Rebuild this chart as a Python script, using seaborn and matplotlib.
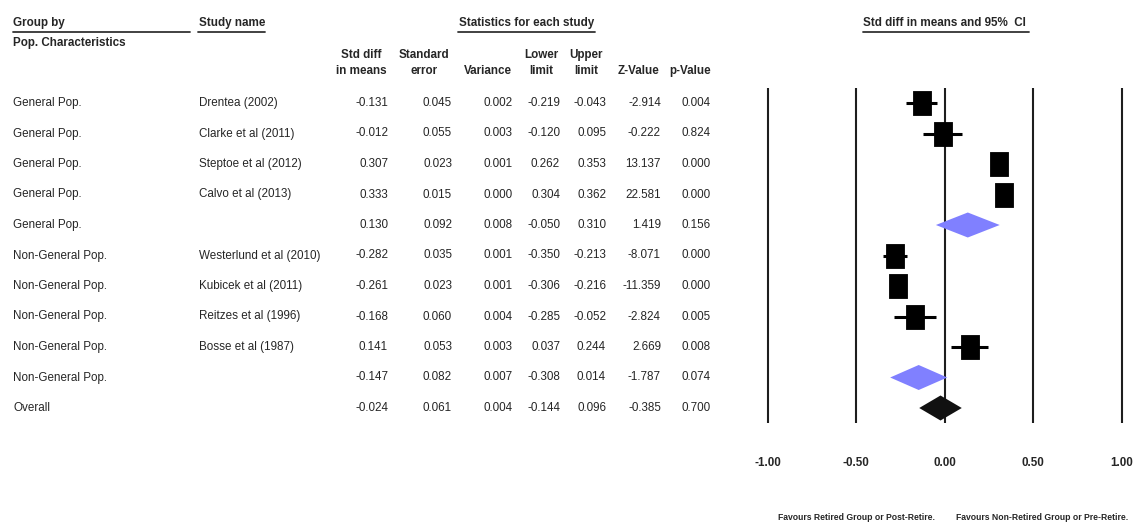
import numpy as np
import pandas as pd
import matplotlib
matplotlib.use("Agg")
import matplotlib.pyplot as plt
from matplotlib import font_manager
from matplotlib.markers import MarkerStyle
from matplotlib.patches import Polygon
from matplotlib.path import Path
import seaborn as sns

# ---- data -----------------------------------------------------------------
groups = ["General Pop."] * 5 + ["Non-General Pop."] * 5 + ["Overall"]
studies = ["Drentea (2002)", "Clarke et al (2011)", "Steptoe et al (2012)",
           "Calvo et al (2013)", "",
           "Westerlund et al (2010)", "Kubicek et al (2011)",
           "Reitzes et al (1996)", "Bosse et al (1987)", "", ""]
row_kind = ["study"] * 4 + ["subgroup"] + ["study"] * 4 + ["subgroup", "overall"]
std_diff = [-0.131, -0.012, 0.307, 0.333, 0.130, -0.282, -0.261, -0.168, 0.141, -0.147, -0.024]
std_err = [0.045, 0.055, 0.023, 0.015, 0.092, 0.035, 0.023, 0.060, 0.053, 0.082, 0.061]
variance = [0.002, 0.003, 0.001, 0.000, 0.008, 0.001, 0.001, 0.004, 0.003, 0.007, 0.004]
lower = [-0.219, -0.120, 0.262, 0.304, -0.050, -0.350, -0.306, -0.285, 0.037, -0.308, -0.144]
upper = [-0.043, 0.095, 0.353, 0.362, 0.310, -0.213, -0.216, -0.052, 0.244, 0.014, 0.096]
z_value = [-2.914, -0.222, 13.137, 22.581, 1.419, -8.071, -11.359, -2.824, 2.669, -1.787, -0.385]
p_value = [0.004, 0.824, 0.000, 0.000, 0.156, 0.000, 0.000, 0.005, 0.008, 0.074, 0.700]
x_ticks = [-1.0, -0.5, 0.0, 0.5, 1.0]

df = pd.DataFrame({
    "group": groups, "study": studies, "kind": row_kind,
    "es": std_diff, "se": std_err, "var": variance,
    "lo": lower, "hi": upper, "z": z_value, "p": p_value,
})
df["row"] = np.arange(len(df))

# ---- style ----------------------------------------------------------------
sns.set_theme(style="white")
available = {f.name for f in font_manager.fontManager.ttflist}
if "Liberation Sans Narrow" in available:
    FAMILY, SCALE = ["Liberation Sans Narrow", "DejaVu Sans"], 1.0
else:
    FAMILY, SCALE = ["Liberation Sans", "DejaVu Sans"], 0.84
plt.rcParams["font.family"] = FAMILY
FS = 10 * SCALE

W, H, DPI = 1136, 527, 100
fig = plt.figure(figsize=(W / DPI, H / DPI), dpi=DPI)

ROW0, STEP = 103.0, 30.5          # pixel centre of first row, row pitch
top_px = ROW0 - 0.5 * STEP
bot_px = ROW0 + (len(df) - 0.5) * STEP
ax_b = 1 - bot_px / H
ax_h = (bot_px - top_px) / H

# forest panel: -1 at x=767.5 px, +1 at x=1122 px
ppu = (1122 - 767.5) / 2
pad_u = 0.1
left_px = 767.5 - pad_u * ppu
ax = fig.add_axes([left_px / W, ax_b, (2 + 2 * pad_u) * ppu / W, ax_h])
ax.set_xlim(-1 - pad_u, 1 + pad_u)
ax.set_ylim(len(df) - 0.5, -0.5)
for s in ax.spines.values():
    s.set_visible(False)
ax.set_yticks([])
ax.set_xticks(x_ticks)
ax.set_xticklabels([f"{t:.2f}" for t in x_ticks], fontweight="bold", fontsize=FS)
ax.tick_params(axis="x", length=0, pad=24)
ax.patch.set_alpha(0)

for t in x_ticks:
    ax.axvline(t, color="#1e1e1e", lw=1.5, zorder=1)

studies_df = df[df["kind"] == "study"]
ax.hlines(studies_df["row"], studies_df["lo"], studies_df["hi"],
          color="black", lw=2.2, zorder=2)

rect = Path([(-0.39, -0.5), (0.39, -0.5), (0.39, 0.5), (-0.39, 0.5), (-0.39, -0.5)],
            [Path.MOVETO, Path.LINETO, Path.LINETO, Path.LINETO, Path.CLOSEPOLY])
sns.scatterplot(data=studies_df, x="es", y="row", marker=MarkerStyle(rect),
                s=280, color="black", edgecolor="black", linewidth=0.6,
                legend=False, ax=ax, zorder=3)
ax.set_xlabel("")
ax.set_ylabel("")

HALF = 0.41
for _, r in df[df["kind"] != "study"].iterrows():
    col = "#8080ff" if r["kind"] == "subgroup" else "#111111"
    ax.add_patch(Polygon([(r["lo"], r["row"]), (r["es"], r["row"] - HALF),
                          (r["hi"], r["row"]), (r["es"], r["row"] + HALF)],
                         closed=True, facecolor=col, edgecolor="none", zorder=4))

# table panel shares the row scale, x in pixels
tab = fig.add_axes([0, ax_b, 1, ax_h], zorder=-1)
tab.set_xlim(0, W)
tab.set_ylim(len(df) - 0.5, -0.5)
tab.axis("off")

num_cols = [("es", 388), ("se", 452), ("var", 513), ("lo", 560),
            ("hi", 606), ("z", 661), ("p", 711)]
for _, r in df.iterrows():
    y = r["row"]
    tab.text(13, y, r["group"], ha="left", va="center", fontsize=FS)
    if r["study"]:
        tab.text(199, y, r["study"], ha="left", va="center", fontsize=FS)
    for key, xr in num_cols:
        tab.text(xr, y, f"{r[key]:.3f}", ha="right", va="center", fontsize=FS)


def ftext(x, y, s, **kw):
    kw.setdefault("fontsize", FS)
    kw.setdefault("fontweight", "bold")
    return fig.text(x / W, 1 - y / H, s, va="center", **kw)


def fline(x0, x1, y):
    fig.add_artist(plt.Line2D([x0 / W, x1 / W], [1 - y / H, 1 - y / H],
                              color="#333333", lw=1.3))


ftext(13, 23, "Group by")
fline(13, 190, 32)
ftext(13, 43, "Pop. Characteristics")
ftext(199, 23, "Study name")
fline(198, 265, 32)
ftext(527, 23, "Statistics for each study", ha="center")
fline(458, 595, 32)
ftext(944, 23, "Std diff in means and 95%  CI", ha="center")
fline(863, 1029, 32)

headers = [(361, "Std diff", "in means"), (424, "Standard", "error"),
           (488, "", "Variance"), (541, "Lower", "limit"), (586, "Upper", "limit"),
           (639, "", "Z-Value"), (690, "", "p-Value")]
for xc, l1, l2 in headers:
    if l1:
        ftext(xc, 55, l1, ha="center")
    ftext(xc, 71, l2, ha="center")

ftext(857, 518, "Favours Retired Group or Post-Retire.", ha="center", fontsize=7.4 * SCALE)
ftext(1042, 518, "Favours Non-Retired Group or Pre-Retire.", ha="center", fontsize=7.4 * SCALE)

fig.savefig("out.png", dpi=DPI)
